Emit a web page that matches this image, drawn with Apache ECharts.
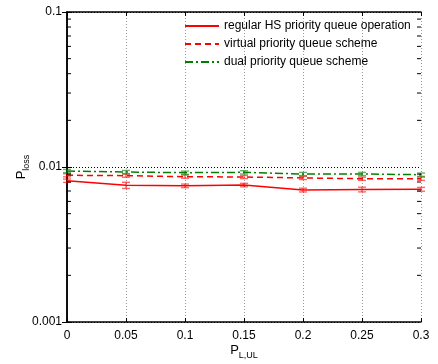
<!DOCTYPE html>
<html>
<head>
<meta charset="utf-8">
<script src="https://cdn.jsdelivr.net/npm/echarts@6/dist/echarts.min.js"></script>
<style>
  html, body { margin: 0; padding: 0; background: #fff; }
  #chart { width: 438px; height: 364px; }
</style>
</head>
<body>
<div id="chart"></div>
<script>
// Unicast loss probability P_L,UL vs. packet loss for three queueing schemes
var xValues = [0, 0.05, 0.1, 0.15, 0.2, 0.25, 0.3];
var xTickLabels = ['0', '0.05', '0.1', '0.15', '0.2', '0.25', '0.3'];

var regularHS = [0.00816, 0.00762, 0.00756, 0.00765, 0.00710, 0.00716, 0.00718];
var regularErr = [0.00020, 0.00035, 0.00020, 0.00020, 0.00020, 0.00025, 0.00020];

var virtualPQ = [0.00884, 0.00879, 0.00866, 0.00862, 0.00850, 0.00840, 0.00840];
var virtualErr = [0.00020, 0.00020, 0.00020, 0.00020, 0.00020, 0.00020, 0.00020];

var dualPQ = [0.00942, 0.00928, 0.00919, 0.00924, 0.00901, 0.00901, 0.00892];
var dualErr = [0.00022, 0.00022, 0.00022, 0.00022, 0.00022, 0.00022, 0.00022];

var yTickLabels = { '0.001': '0.001', '0.01': '0.01', '0.1': '0.1' };
var yMinorTicks = [0.002, 0.003, 0.004, 0.005, 0.006, 0.007, 0.008, 0.009,
                   0.02, 0.03, 0.04, 0.05, 0.06, 0.07, 0.08, 0.09];

var FONT = 'Liberation Sans, Arial, sans-serif';

function pairs(ys) {
  return xValues.map(function (x, i) { return [x, ys[i]]; });
}

function errData(ys, errs) {
  return xValues.map(function (x, i) { return [x, ys[i] - errs[i], ys[i] + errs[i]]; });
}

function errorBarSeries(ys, errs, color) {
  return {
    type: 'custom',
    silent: true,
    z: 3,
    data: errData(ys, errs),
    renderItem: function (params, api) {
      var lo = api.coord([api.value(0), api.value(1)]);
      var hi = api.coord([api.value(0), api.value(2)]);
      var w = 4;
      var style = { stroke: color, lineWidth: 1.4, opacity: 0.6 };
      return {
        type: 'group',
        children: [
          { type: 'line', shape: { x1: lo[0], y1: lo[1], x2: hi[0], y2: hi[1] }, style: style },
          { type: 'line', shape: { x1: lo[0] - w, y1: lo[1], x2: lo[0] + w, y2: lo[1] }, style: style },
          { type: 'line', shape: { x1: hi[0] - w, y1: hi[1], x2: hi[0] + w, y2: hi[1] }, style: style }
        ]
      };
    }
  };
}

// Minor log ticks (2..9 per decade) on both vertical edges
var minorTickSeries = {
  type: 'custom',
  silent: true,
  z: 5,
  data: yMinorTicks.map(function (v) { return [0, v]; }),
  renderItem: function (params, api) {
    var l = api.coord([0, api.value(1)]);
    var r = api.coord([0.3, api.value(1)]);
    var style = { stroke: '#000', lineWidth: 1 };
    return {
      type: 'group',
      children: [
        { type: 'line', shape: { x1: l[0], y1: l[1], x2: l[0] + 4, y2: l[1] }, style: style },
        { type: 'line', shape: { x1: r[0] - 4, y1: r[1], x2: r[0], y2: r[1] }, style: style }
      ]
    };
  }
};

var chart = echarts.init(document.getElementById('chart'), null, { renderer: 'canvas' });

chart.setOption({
  animation: false,
  backgroundColor: '#fff',
  textStyle: { fontFamily: FONT },
  grid: { left: 67, right: 17, top: 12, bottom: 42, show: false, containLabel: false, outerBoundsMode: 'none' },
  legend: {
    orient: 'vertical',
    left: 179,
    top: 15,
    itemWidth: 34,
    itemHeight: 10,
    itemGap: 6,
    itemStyle: { color: 'rgba(0,0,0,0)', borderWidth: 0 },
    textStyle: { fontFamily: FONT, fontSize: 12, color: '#000' },
    data: ['regular HS priority queue operation', 'virtual priority queue scheme', 'dual priority queue scheme']
  },
  xAxis: [{
    type: 'value',
    min: 0,
    max: 0.3,
    interval: 0.05,
    name: '{p|P}{s|L,UL}',
    nameLocation: 'middle',
    nameGap: 22,
    nameMoveOverlap: false,
    nameTextStyle: {
      rich: {
        p: { fontFamily: FONT, fontSize: 13, color: '#000', verticalAlign: 'top', lineHeight: 16 },
        s: { fontFamily: FONT, fontSize: 9, color: '#000', verticalAlign: 'bottom', lineHeight: 16, padding: [8, 0, 0, 0] }
      }
    },
    axisLine: { show: true, onZero: false, lineStyle: { color: '#000', width: 1.5 } },
    axisTick: { show: true, inside: true, length: 4, lineStyle: { color: '#000' } },
    axisLabel: {
      fontFamily: FONT, fontSize: 12, color: '#000', margin: 8,
      formatter: function (v) { return xTickLabels[Math.round(v / 0.05)]; }
    },
    splitLine: { show: true, lineStyle: { color: '#999', type: [1, 2], width: 1 } }
  }, {
    type: 'value',
    position: 'top',
    min: 0,
    max: 0.3,
    interval: 0.05,
    axisLine: { show: true, lineStyle: { color: '#000', width: 1.5 } },
    axisTick: { show: true, inside: true, length: 4, lineStyle: { color: '#000' } },
    axisLabel: { show: false },
    splitLine: { show: false }
  }],
  yAxis: [{
    type: 'log',
    logBase: 10,
    min: 0.001,
    max: 0.1,
    name: '{p|P}{s|loss}',
    nameLocation: 'middle',
    nameGap: 36,
    nameMoveOverlap: false,
    nameRotate: 90,
    nameTextStyle: {
      rich: {
        p: { fontFamily: FONT, fontSize: 13, color: '#000', verticalAlign: 'top', lineHeight: 16 },
        s: { fontFamily: FONT, fontSize: 9, color: '#000', verticalAlign: 'bottom', lineHeight: 16, padding: [8, 0, 0, 0] }
      }
    },
    axisLine: { show: true, lineStyle: { color: '#000', width: 1.5 } },
    axisTick: { show: true, inside: true, length: 5, lineStyle: { color: '#000' } },
    axisLabel: {
      fontFamily: FONT, fontSize: 12, color: '#000', margin: 5,
      formatter: function (v) {
        var k = String(Number(v.toPrecision(3)));
        return yTickLabels[k] || '';
      }
    },
    splitLine: { show: true, lineStyle: { color: '#000', type: [1, 2], width: 1 } }
  }, {
    type: 'log',
    logBase: 10,
    min: 0.001,
    max: 0.1,
    position: 'right',
    axisLine: { show: true, lineStyle: { color: '#000', width: 1.5 } },
    axisTick: { show: true, inside: true, length: 5, lineStyle: { color: '#000' } },
    axisLabel: { show: false },
    splitLine: { show: false }
  }],
  series: [
    {
      name: 'regular HS priority queue operation',
      type: 'line',
      symbol: 'none',
      z: 4,
      data: pairs(regularHS),
      lineStyle: { color: '#ff0000', width: 1.5, type: 'solid' },
      itemStyle: { color: '#ff0000' }
    },
    {
      name: 'virtual priority queue scheme',
      type: 'line',
      symbol: 'none',
      z: 4,
      data: pairs(virtualPQ),
      lineStyle: { color: '#ff0000', width: 1.5, type: [6, 4] },
      itemStyle: { color: '#ff0000' }
    },
    {
      name: 'dual priority queue scheme',
      type: 'line',
      symbol: 'none',
      z: 4,
      data: pairs(dualPQ),
      lineStyle: { color: '#008000', width: 1.5, type: [8, 3, 2, 3] },
      itemStyle: { color: '#008000' }
    },
    errorBarSeries(regularHS, regularErr, '#ff0000'),
    errorBarSeries(virtualPQ, virtualErr, '#ff0000'),
    errorBarSeries(dualPQ, dualErr, '#008000'),
    minorTickSeries
  ]
});
</script>
</body>
</html>
